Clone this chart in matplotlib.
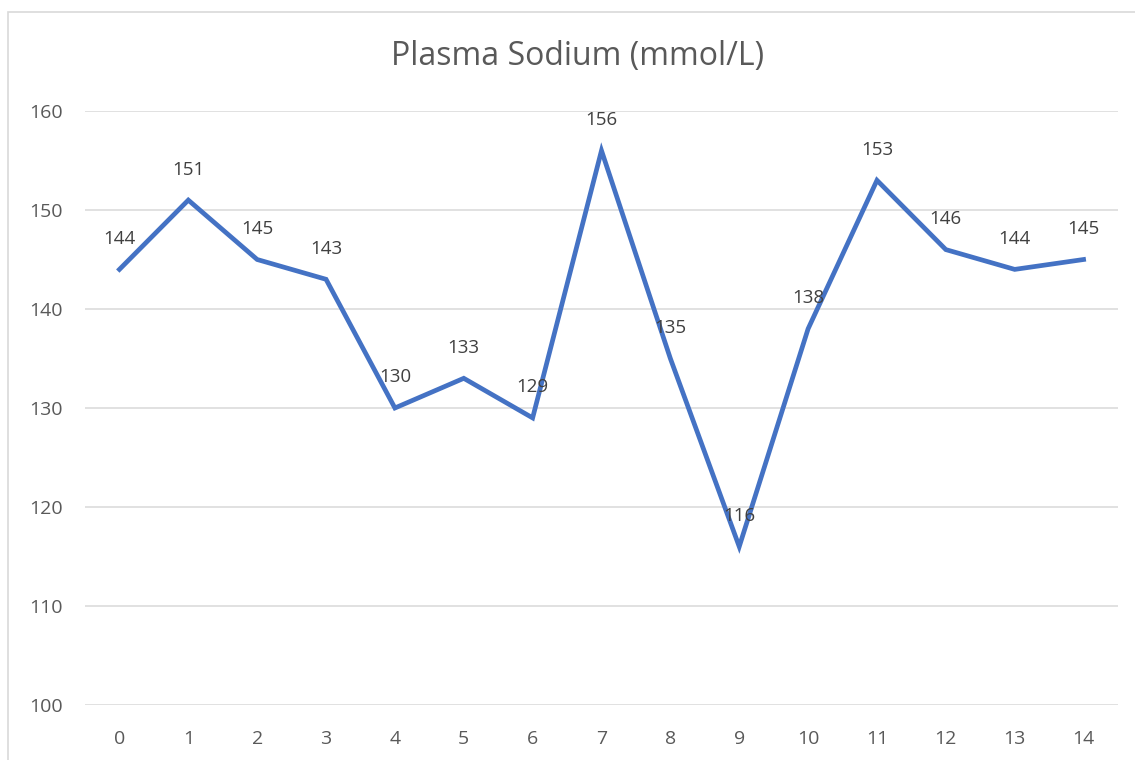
import matplotlib
matplotlib.use("Agg")
import matplotlib.pyplot as plt
from matplotlib.patches import Rectangle

days = list(range(15))
sodium = [144, 151, 145, 143, 130, 133, 129, 156, 135, 116, 138, 153, 146, 144, 145]
title = "Plasma Sodium (mmol/L)"
yticks = [100, 110, 120, 130, 140, 150, 160]

plt.rcParams['font.family'] = ['Open Sans', 'DejaVu Sans']

W, H = 1135, 760
fig = plt.figure(figsize=(W / 100, H / 100), dpi=100)
fig.patch.set_facecolor('white')

# chart border
fig.patches.append(Rectangle((8 / W, -0.1), 1.2, 0.1 + (H - 12) / H,
                             transform=fig.transFigure, fill=False,
                             edgecolor='#D9D9D9', linewidth=1.2))

ax = fig.add_axes([85 / W, (H - 705) / H, (1118 - 85) / W, (705 - 111) / H])
ax.plot(days, sodium, color='#4472C4', linewidth=3.4, solid_joinstyle='miter',
        clip_on=False, zorder=3)
for x, y in zip(days, sodium):
    ax.annotate(str(y), (x, y), xytext=(0, 22), textcoords='offset points',
                ha='center', va='center', fontsize=13.5, color='#404040', zorder=4)

ax.set_xlim(-0.5, 14.5)
ax.set_ylim(100, 160)
ax.set_yticks(yticks)
ax.set_xticks(days)
ax.grid(axis='y', color='#D9D9D9', linewidth=1.1)
ax.set_axisbelow(True)
for s in ax.spines.values():
    s.set_visible(False)
ax.tick_params(length=0, labelsize=14, labelcolor='#595959')
ax.tick_params(axis='y', pad=16)
ax.tick_params(axis='x', pad=18)

fig.text(578 / W, (H - 57) / H, title, ha='center', va='center',
         fontsize=23, color='#595959')

fig.savefig('out.png', dpi=100, facecolor='white')
